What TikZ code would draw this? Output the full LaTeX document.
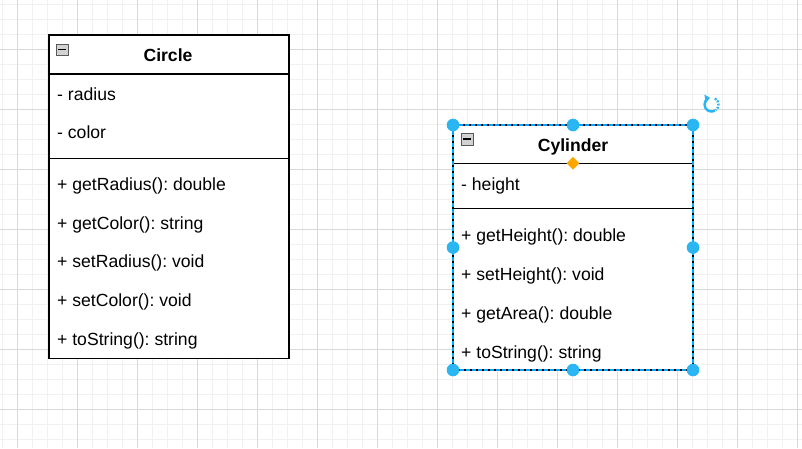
\documentclass[tikz,border=0pt]{standalone}
\usepackage{fontspec}
\setmainfont{Liberation Sans}
\usetikzlibrary{positioning,calc,shapes.geometric,arrows.meta}

\definecolor{gridmajor}{HTML}{D9D9D9}
\definecolor{gridminor}{HTML}{F1F1F1}
\definecolor{selblue}{HTML}{29B6F2}
\definecolor{dashblue}{HTML}{00A8FF}
\definecolor{sizeorange}{HTML}{FFA500}

\tikzset{
  classbox/.style={draw=black, line width=1.2pt, fill=white, inner sep=0pt, outer sep=0pt, anchor=north west, minimum width=240pt},
  classname/.style={font=\fontsize{17.6}{20}\selectfont\bfseries, inner sep=0pt, anchor=base},
  member/.style={font=\fontsize{17.6}{20}\selectfont, inner sep=0pt, anchor=base west},
  toggle/.style={draw=gray!70!black, fill=gray!35, inner sep=0pt, outer sep=0pt, minimum width=12.5pt, minimum height=11.5pt, anchor=north west},
  handle/.style={circle, fill=selblue, inner sep=0pt, minimum size=12.6pt},
  sizer/.style={diamond, fill=sizeorange, inner sep=0pt, minimum size=13pt}
}
\frenchspacing

\begin{document}
\begin{tikzpicture}[x=1pt, y=-1pt]
    \useasboundingbox (0,0) rectangle (802,448);
    % grid
    \fill[white] (0,0) rectangle (802,448);
    \foreach \x in {2.3,17.3,...,802} \draw[gridminor, line width=1pt] (\x,0) -- (\x,448);
    \foreach \y in {4.3,19.3,...,448} \draw[gridminor, line width=1pt] (0,\y) -- (802,\y);
    \foreach \x in {17.3,77.3,...,802} \draw[gridmajor, line width=1pt] (\x,0) -- (\x,448);
    \foreach \y in {49.3,109.3,...,448} \draw[gridmajor, line width=1pt] (0,\y) -- (802,\y);

    % Circle
    \node[classbox, minimum height=323.5pt] (circlebox) at (49,35) {};
    \node[classname] (circlename) at (168,61) {Circle};
    \node[toggle] (circletoggle) at (55.7,44) {};
    \draw[line width=1.3pt] ($(circletoggle.west)+(2.5,0)$) -- ($(circletoggle.east)+(-2.5,0)$);
    \draw[line width=1.2pt] (circlebox.west |- 0,74) -- (circlebox.east |- 0,74);
    \draw[line width=1.2pt] (circlebox.west |- 0,158.3) -- (circlebox.east |- 0,158.3);
    \foreach \y/\txt [count=\i] in {100/{- radius}, 138.7/{- color}}
        \node[member] (circlefield\i) at (57,\y) {\txt};
    \foreach \y/\txt [count=\i] in {190/{+ getRadius(): double}, 229/{+ getColor(): string},
        267.7/{+ setRadius(): void}, 306.7/{+ setColor(): void}, 345.7/{+ toString(): string}}
        \node[member] (circleop\i) at (57,\y) {\txt};

    % Cylinder (selected)
    \node[classbox, minimum height=245pt] (cylbox) at (453,125) {};
    \node[classname] (cylname) at (573,151.7) {Cylinder};
    \node[toggle] (cyltoggle) at (460.7,133.3) {};
    \draw[line width=1.3pt] ($(cyltoggle.west)+(2.5,0)$) -- ($(cyltoggle.east)+(-2.5,0)$);
    \draw[line width=1.2pt] (cylbox.west |- 0,163.3) -- (cylbox.east |- 0,163.3);
    \draw[line width=1.2pt] (cylbox.west |- 0,208.7) -- (cylbox.east |- 0,208.7);
    \node[member] (cylfield1) at (461,190) {- height};
    \foreach \y/\txt [count=\i] in {241/{+ getHeight(): double}, 280/{+ setHeight(): void},
        319/{+ getArea(): double}, 358/{+ toString(): string}}
        \node[member] (cylop\i) at (461,\y) {\txt};

    % selection
    \draw[dashblue, line width=1.1pt, dash pattern=on 4pt off 2pt] (cylbox.north west) rectangle (cylbox.south east);
    \foreach \a/\n in {north west/nw, north/n, north east/ne, west/w, east/e, south west/sw, south/s, south east/se}
        \node[handle] (cyl\n) at (cylbox.\a) {};
    \node[sizer] (cylsizer) at (cylbox.north |- 0,163.3) {};
    % rotate icon
    \coordinate (rotc) at (711.5,104.5);
    \draw[selblue, line width=2.4pt, -{Triangle[length=5pt,width=8pt]}] ($(rotc)+(60:7)$) arc[start angle=60, end angle=258, radius=7];
    \draw[selblue, line width=2.4pt, dash pattern=on 1.8pt off 1.4pt] ($(rotc)+(300:7)$) arc[start angle=300, end angle=412, radius=7];
\end{tikzpicture}
\end{document}
